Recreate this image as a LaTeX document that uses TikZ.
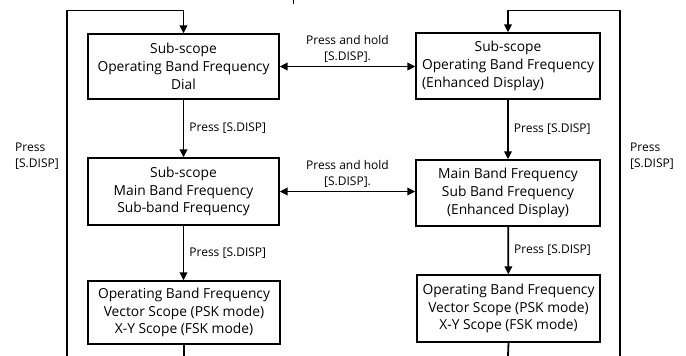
\documentclass[tikz,border=0pt]{standalone}
\usepackage{fontspec}
\usepackage{calc}
\setmainfont{Open Sans}
\usetikzlibrary{arrows.meta, positioning}

\begin{document}
\begin{tikzpicture}[
        x=1pt, y=-1pt,
        mode box/.style={draw, line width=1.3pt, align=center, inner sep=0pt,
            font=\fontsize{13.8}{17.9}\selectfont},
        flow line/.style={line width=1.8pt, -{Triangle[length=8pt,width=7.5pt]}},
        swap line/.style={line width=1.8pt, {Triangle[length=8pt,width=7.5pt]}-{Triangle[length=8pt,width=7.5pt]}},
        plain line/.style={line width=1.8pt},
        key label/.style={font=\fontsize{12}{16}\selectfont, align=left, inner sep=0pt},
    ]

    \useasboundingbox (0,0) rectangle (686,356);

    % Left column
    \node[mode box, minimum width=191pt, minimum height=65pt] (l1) at (183.5,66.5)
        {Sub-scope\\Operating Band Frequency\\Dial};
    \node[mode box, minimum width=191pt, minimum height=67pt] (l2) at (183.5,191.5)
        {Sub-scope\\Main Band Frequency\\Sub-band Frequency};
    \node[mode box, minimum width=192pt, minimum height=63pt] (l3) at (184,312.5)
        {Operating Band Frequency\\Vector Scope (PSK mode)\\X-Y Scope (FSK mode)};

    % Right column
    \node[mode box, minimum width=184pt, minimum height=66pt] (r1) at (508,66)
        {Sub-scope\\Operating Band Frequency\\\makebox[\widthof{Operating Band Frequency}][l]{(Enhanced Display)}};
    \node[mode box, minimum width=184pt, minimum height=66pt] (r2) at (508,193)
        {Main Band Frequency\\Sub Band Frequency\\(Enhanced Display)};
    \node[mode box, minimum width=183pt, minimum height=67pt] (r3) at (508.5,308.5)
        {Operating Band Frequency\\Vector Scope (PSK mode)\\X-Y Scope (FSK mode)};

    % Loop ends
    \coordinate (ltop) at (67,10.5);
    \coordinate (lbot) at (67,356);
    \coordinate (rtop) at (620,10.5);
    \coordinate (rbot) at (620,356);
    \coordinate (lend) at (184,356);
    \coordinate (rend) at (508,356);

    % Press [S.DISP] steps
    \draw[flow line] (l1) -- node[key label, right=5pt] (lk1) {Press [S.DISP]} (l2);
    \draw[flow line] (l2) -- node[key label, right=5pt] (lk2) {Press [S.DISP]} (l2.south |- l3.north);
    \draw[flow line] (r1) -- node[key label, right=5pt] (rk1) {Press [S.DISP]} (r2);
    \draw[flow line] (r2) -- node[key label, right=5pt] (rk2) {Press [S.DISP]} (r3);
    \draw[plain line] (l3.south) -- (lend);
    \draw[plain line] (r3.south) -- (rend);

    % Press and hold
    \draw[swap line] (l1.east) -- node[key label, align=center, above=3pt] (h1) {Press and hold\\{[S.DISP].}} (l1.east -| r1.west);
    \draw[swap line] (l2.east) -- node[key label, align=center, above=3pt] (h2) {Press and hold\\{[S.DISP].}} (l2.east -| r2.west);

    % Return loops
    \draw[flow line] (lbot) -- (ltop) -| (l1.north);
    \draw[flow line] (rbot) -- (rtop) -| (r1.north);
    \node[key label, anchor=north west] (lback) at (15,143) {Press\\{[S.DISP]}};
    \node[key label, anchor=north west] (rback) at (630,143) {Press\\{[S.DISP]}};

    % Cut-off mark at the top
    \draw[line width=0.8pt] (293,0) -- (293,3.5);

\end{tikzpicture}
\end{document}
